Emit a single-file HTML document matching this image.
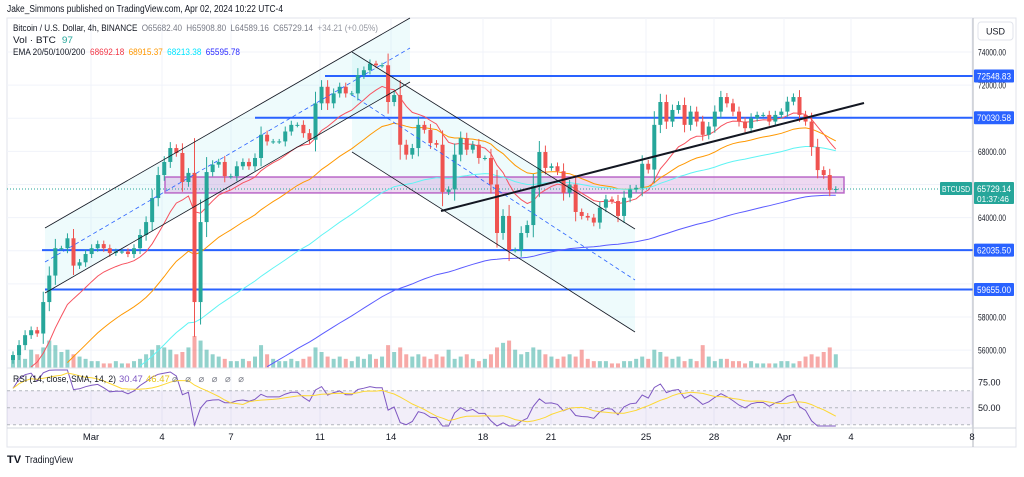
<!DOCTYPE html>
<html><head><meta charset="utf-8">
<style>
html,body{margin:0;padding:0;background:#fff;}
body{width:1024px;height:472px;overflow:hidden;font-family:"Liberation Sans",sans-serif;}
svg text{font-family:"Liberation Sans",sans-serif;}
</style></head>
<body>
<svg id="chart" width="1024" height="472" xmlns="http://www.w3.org/2000/svg">
<text x="7" y="12" font-size="10" textLength="276" lengthAdjust="spacingAndGlyphs" fill="#131722">Jake_Simmons published on TradingView.com, Apr 02, 2024 10:22 UTC-4</text>
<rect x="7" y="18" width="1009" height="429" fill="#fff" stroke="#e0e3eb"/>
<g id="grid"></g>
<g id="drawings"></g>
<g id="volume"></g>
<g id="emas"></g>
<g id="candles"></g>
<g id="overlays"></g>
<g id="rsi"></g>
<g id="axes"></g>
<g font-size="9.5">
<text x="13" y="31" textLength="365" lengthAdjust="spacingAndGlyphs" fill="#131722"><tspan fill="#131722">Bitcoin / U.S. Dollar, 4h, BINANCE</tspan><tspan fill="#787b86" dx="5">O65682.40</tspan><tspan fill="#787b86" dx="5">H65908.80</tspan><tspan fill="#787b86" dx="5">L64589.16</tspan><tspan fill="#787b86" dx="5">C65729.14</tspan><tspan fill="#9598a1" dx="5">+34.21 (+0.05%)</tspan></text>
<text x="13" y="43" textLength="60" lengthAdjust="spacingAndGlyphs" fill="#131722">Vol · BTC <tspan fill="#26a69a" dx="3">97</tspan></text>
<text x="13" y="55" textLength="227" lengthAdjust="spacingAndGlyphs" fill="#131722">EMA 20/50/100/200 <tspan fill="#f23645" dx="3">68692.18</tspan><tspan fill="#ff9800" dx="5">68915.37</tspan><tspan fill="#00e5ff" dx="5">68213.38</tspan><tspan fill="#2a2aff" dx="5">65595.78</tspan></text>
</g>
<g>
<text x="7" y="463" font-size="11" font-weight="bold" fill="#131722">TV</text>
<text x="25" y="463" font-size="10" textLength="48" lengthAdjust="spacingAndGlyphs" fill="#131722">TradingView</text>
</g>
</svg>
<script>
const NS="http://www.w3.org/2000/svg";
const closes=[55700,56300,56900,57200,57000,58900,60500,62150,62150,62750,61100,61300,61800,62150,62400,62150,61860,61950,61950,61800,62150,62950,63730,65180,66570,67360,68200,67900,66150,66700,58900,63730,66750,67200,67360,66500,66500,67100,67360,67100,67600,69000,68600,68600,68600,69200,69600,69600,69100,68700,70900,71900,70900,71500,71900,71500,71500,72600,72900,73300,73200,73200,70980,71400,68400,67800,68200,69600,
69300,68500,68400,65550,65700,67800,68800,68100,68400,67600,67600,66000,63070,64100,62040,62040,63070,63550,65900,67960,67000,67100,66800,65500,66000,64340,64100,64000,63700,64600,65100,65000,64100,65200,65700,65800,67250,66900,69600,70980,69800,70500,70800,69600,70400,69800,69000,69500,70400,71280,70900,70400,69800,69400,70000,70200,70200,69800,70200,70400,71000,71280,70200,69800,68260,66870,66570,65670,65729];
const volumes=[5,7,4,8,6,9,12,10,7,8,6,5,4,3,3,2,2,3,2,2,3,4,6,8,10,9,8,6,7,9,14,12,8,6,5,4,3,3,4,3,5,10,6,4,3,3,4,3,4,5,9,7,5,4,5,4,3,5,4,6,4,5,10,7,9,6,5,6,
5,4,6,5,8,4,5,6,4,3,4,6,9,11,12,8,6,7,9,8,6,5,4,5,6,5,8,4,3,3,3,2,2,3,3,4,5,4,8,7,5,4,5,3,4,3,10,5,3,4,4,3,3,2,3,2,2,2,2,3,3,2,3,5,6,5,7,9,6];
const priceTicks=[74000,72000,70000,68000,66000,64000,62000,60000,58000,56000];
const levels=[72548.83,70030.58,62035.50,59655.00];
const levelStarts=[325,255,42,45];
const timeLabels=["Mar","4","7","11","14","18","21","25","28","Apr","4","8"];
const timeX=[91,162,231,320,391,483,551,646,714,784,851,972];
const emaPeriods=[20,50,100,200];
const emaSeeds=[53500,51500,49000,46000];
const emaColors=["#f7525f","#ff9800","#5ff4f4","#5b5bff"];
const lastPrice=65729.14;
const zoneTop=66450, zoneBottom=65490;

const X0=13, STEP=6.05, AXISX=973;
const y=v=>52+(74000-v)*0.01656;
const x=i=>X0+i*STEP;
const ry=r=>407.7-(r-50)*0.85;
function el(tag,attrs,parent,txt){const e=document.createElementNS(NS,tag);for(const k in attrs)e.setAttribute(k,attrs[k]);if(txt!==undefined)e.textContent=txt;parent.appendChild(e);return e;}
const G=id=>document.getElementById(id);

priceTicks.forEach(p=>{const l=el('line',{x1:7,x2:AXISX,y1:y(p),y2:y(p),stroke:'#f0f3fa'},G('grid'));

});
timeX.forEach(t=>{const l=el('line',{x1:t,x2:t,y1:18,y2:428,stroke:'#f0f3fa'},G('grid'));

});

const D=G('drawings');
let p=el('polygon',{points:'45,228 410,18 410,82 45,293',fill:'rgba(178,235,242,0.22)'},D);


p=el('polygon',{points:'352,52 635,229 635,332 352,152',fill:'rgba(178,235,242,0.22)'},D);


p=el('rect',{x:165,y:y(zoneTop),width:679,height:y(zoneBottom)-y(zoneTop),fill:'rgba(186,104,200,0.25)',stroke:'#ba68c8','stroke-width':1.5},D);


levels.forEach((lv,i)=>{const l=el('line',{x1:levelStarts[i],x2:AXISX,y1:y(lv),y2:y(lv),stroke:'#2962ff','stroke-width':2},D);

});
const pl=el('line',{x1:7,x2:AXISX,y1:y(lastPrice),y2:y(lastPrice),stroke:'#26a69a','stroke-dasharray':'1 2'},D);



const vmax=14;
closes.forEach((c,i)=>{const o=i?closes[i-1]:c;const h=volumes[i]/vmax*32;
const r=el('rect',{x:x(i)-2,y:368-h,width:4,height:h,fill:c>=o?'rgba(38,166,154,0.5)':'rgba(239,83,80,0.5)'},G('volume'));

});

emaPeriods.forEach((per,k)=>{const a=2/(per/1.6+1);let e=emaSeeds[k];let pts=[];
closes.forEach((c,i)=>{e=e+a*(c-e);const yy=y(e);if(yy<368)pts.push(x(i).toFixed(1)+','+yy.toFixed(1));});
const l=el('polyline',{points:pts.join(' '),fill:'none',stroke:emaColors[k],'stroke-width':1},G('emas'));

});

closes.forEach((c,i)=>{const o=i?closes[i-1]:c-300;const up=c>=o;const col=up?'#26a69a':'#ef5350';
const w=Math.abs(c-o)*0.25+150;const hi=Math.max(o,c)+w, lo=Math.min(o,c)-w;
const g=el('g',{},G('candles'));


el('line',{x1:x(i),x2:x(i),y1:y(hi),y2:y(lo),stroke:col},g);
el('rect',{x:x(i)-2,y:y(Math.max(o,c)),width:4,height:Math.max(1,y(Math.min(o,c))-y(Math.max(o,c))),fill:col},g);});

const O=G('overlays');
[[45,228,410,18,'#131722',0.8,''],[45,293,410,82,'#131722',0.8,''],[45,262,410,48,'#2962ff',0.8,'4 3'],
 [352,52,635,229,'#131722',0.8,''],[352,152,635,332,'#131722',0.8,''],[352,95,635,280,'#2962ff',0.8,'4 3'],
 [441,211,864,103,'#131722',2,'']].forEach((s,i)=>{
const l=el('line',{x1:s[0],y1:s[1],x2:s[2],y2:s[3],stroke:s[4],'stroke-width':s[5],'stroke-dasharray':s[6]},O);

});

const R=G('rsi');
el('line',{x1:7,x2:AXISX,y1:368,y2:368,stroke:'#e0e3eb'},R);
const band=el('rect',{x:7,y:ry(70),width:AXISX-7,height:ry(30)-ry(70),fill:'rgba(126,87,194,0.1)'},R);


[70,50,30].forEach(v=>{const l=el('line',{x1:7,x2:AXISX,y1:ry(v),y2:ry(v),stroke:'#b2b5be','stroke-dasharray':'3 3'},R);

});
const per=9;let ag=0,al=0;const rsi=[];
closes.forEach((c,i)=>{if(i===0){ag=80;al=30;}else{const d=c-closes[i-1];ag=(ag*(per-1)+Math.max(d,0))/per;al=(al*(per-1)+Math.max(-d,0))/per;}
rsi.push(100-100/(1+ag/Math.max(al,1)));});
const sma=rsi.map((r,i)=>{const s=rsi.slice(Math.max(0,i-8),i+1);return s.reduce((a,b)=>a+b,0)/s.length;});
const rp=el('polyline',{points:rsi.map((r,i)=>x(i).toFixed(1)+','+Math.max(370,Math.min(426,ry(r))).toFixed(1)).join(' '),fill:'none',stroke:'#7e57c2','stroke-width':1},R);


const sp=el('polyline',{points:sma.map((r,i)=>x(i).toFixed(1)+','+ry(r).toFixed(1)).join(' '),fill:'none',stroke:'#fdd835','stroke-width':1},R);


const rl=el('text',{x:13,y:382,'font-size':9.5,textLength:103,lengthAdjust:'spacingAndGlyphs',fill:'#131722'},R,'RSI (14, close, SMA, 14, 2)');


const rv=el('text',{x:119,y:382,'font-size':9.5,fill:'#7e57c2'},R,'30.47');


const rs=el('text',{x:146,y:382,'font-size':9.5,fill:'#e6c619'},R,'46.47');


const ri=el('text',{x:172,y:382,'font-size':9.5,textLength:72,lengthAdjust:'spacing',fill:'#787b86'},R,'⌀ ⌀ ⌀ ⌀ ⌀ ⌀');



const A=G('axes');
el('line',{x1:AXISX,x2:AXISX,y1:18,y2:447,stroke:'#b2b5be'},A);
el('line',{x1:7,x2:1016,y1:428,y2:428,stroke:'#d1d4dc'},A);
priceTicks.forEach(pv=>{if(pv===66000||pv===60000)return;const t=el('text',{x:978,y:y(pv)+3.5,'font-size':9,textLength:28,lengthAdjust:'spacingAndGlyphs',fill:'#131722'},A,pv.toFixed(2));

});
[[75,'75.00'],[50,'50.00']].forEach(a=>{const t=el('text',{x:978,y:ry(a[0])+(a[0]==75?-1:3.5),'font-size':9,fill:'#131722'},A,a[1]);

});
timeLabels.forEach((s,i)=>{const t=el('text',{x:timeX[i],y:440,'font-size':9.5,fill:'#131722','text-anchor':'middle'},A,s);

});
const ub=el('rect',{x:978,y:22,width:35,height:18,rx:3,fill:'#fff',stroke:'#e0e3eb'},A);


el('text',{x:986,y:34.5,'font-size':9,fill:'#131722'},A,'USD');
levels.forEach(lv=>{const g=el('g',{},A);


el('rect',{x:974,y:y(lv)-6.5,width:40,height:13,rx:1,fill:'#2962ff'},g);
el('text',{x:977,y:y(lv)+3.5,'font-size':9,textLength:34,lengthAdjust:'spacingAndGlyphs',fill:'#fff'},g,lv.toFixed(2));});
const lg=el('g',{},A);


el('rect',{x:940,y:y(lastPrice)-7,width:32,height:13,rx:1,fill:'#26a69a'},lg);
el('text',{x:942,y:y(lastPrice)+3,'font-size':8,textLength:28,lengthAdjust:'spacingAndGlyphs',fill:'#fff'},lg,'BTCUSD');
el('rect',{x:974,y:y(lastPrice)-7,width:40,height:22,rx:1,fill:'#26a69a'},lg);
el('text',{x:977,y:y(lastPrice)+3,'font-size':9,textLength:34,lengthAdjust:'spacingAndGlyphs',fill:'#fff'},lg,lastPrice.toFixed(2));
el('text',{x:977,y:y(lastPrice)+13,'font-size':8.5,textLength:32,lengthAdjust:'spacingAndGlyphs',fill:'#fff'},lg,'01:37:46');
</script>
</body></html>
